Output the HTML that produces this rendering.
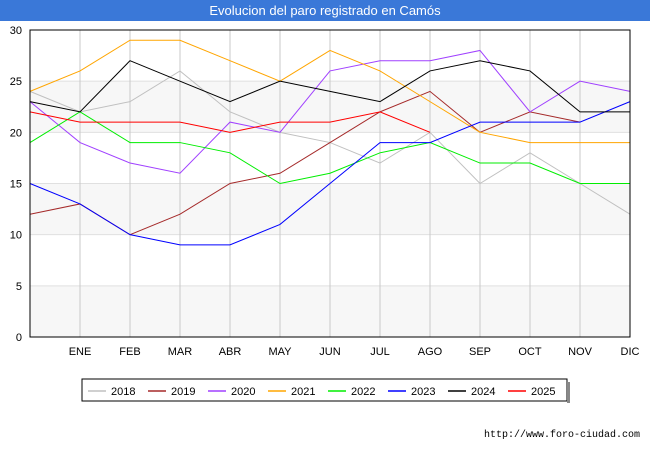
<!DOCTYPE html>
<html><head><meta charset="utf-8"><style>
body{margin:0;background:#fff;font-family:"Liberation Sans","DejaVu Sans",sans-serif}
</style></head><body>
<svg id="c" width="650" height="450" xmlns="http://www.w3.org/2000/svg">
<rect x="0" y="0" width="650" height="450" fill="#fff"/>
<rect x="0" y="0" width="650" height="21" fill="#3a78d8"/>
<text x="325" y="15" text-anchor="middle" fill="#fff" font-size="13">Evolucion del paro registrado en Camós</text>
<g id="grid"></g><g id="series"></g><g id="axes"></g>
<g id="legend"></g>
<text x="640" y="437" text-anchor="end" font-size="10" fill="#000" font-family="Liberation Mono, monospace">http://www.foro-ciudad.com</text>
</svg>
<script>
const months=["","ENE","FEB","MAR","ABR","MAY","JUN","JUL","AGO","SEP","OCT","NOV","DIC"];
const yTicks=[0,5,10,15,20,25,30];
const years=["2018","2019","2020","2021","2022","2023","2024","2025"];
const colors=["#c0c0c0","#a52a2a","#a040ff","#ffa500","#00ee00","#0000ff","#000000","#ff0000"];
const s2018=[24,22,23,26,22,20,19,17,20,15,18,15,12];
const s2019=[12,13,10,12,15,16,19,22,24,20,22,21];
const s2020=[23,19,17,16,21,20,26,27,27,28,22,25,24];
const s2021=[24,26,29,29,27,25,28,26,23,20,19,19,19];
const s2022=[19,22,19,19,18,15,16,18,19,17,17,15,15];
const s2023=[15,13,10,9,9,11,15,19,19,21,21,21,23];
const s2024=[23,22,27,25,23,25,24,23,26,27,26,22,22];
const s2025=[22,21,21,21,20,21,21,22,20];
const allSeries=[s2018,s2019,s2020,s2021,s2022,s2023,s2024,s2025];
const NS="http://www.w3.org/2000/svg";
const L=30,R=630,T=30,B=337;
const xS=i=>L+i*(R-L)/12;
const yS=v=>B-v*(B-T)/30;
function mk(tag,attrs,parent){const e=document.createElementNS(NS,tag);for(const k in attrs)e.setAttribute(k,attrs[k]);parent.appendChild(e);return e;}
const grid=document.getElementById('grid'),ax=document.getElementById('axes'),sg=document.getElementById('series'),lg=document.getElementById('legend');
for(let i=0;i<6;i+=2){const r=mk('rect',{x:L,y:yS(yTicks[i]+5),width:R-L,height:yS(0)-yS(5),fill:'#f7f7f7'},grid);

}
yTicks.forEach(v=>{const l=mk('line',{x1:L,x2:R,y1:yS(v),y2:yS(v),stroke:'#e0e0e0'},grid);


const t=mk('text',{x:L-8,y:yS(v)+4,'text-anchor':'end','font-size':11},ax);t.textContent=v;

});
months.forEach((m,i)=>{if(i>0){const l=mk('line',{x1:xS(i),x2:xS(i),y1:T,y2:B,stroke:'#c8c8c8'},grid);

}
const t=mk('text',{x:xS(i),y:B+18,'text-anchor':'middle','font-size':11},ax);t.textContent=m;

});
const fr=mk('rect',{x:L,y:T,width:R-L,height:B-T,fill:'none',stroke:'#000'},ax);


allSeries.forEach((s,k)=>{const p=mk('polyline',{points:s.map((v,i)=>xS(i)+','+yS(v)).join(' '),fill:'none',stroke:colors[k],'stroke-width':1},sg);

});
const lb=mk('rect',{x:82,y:379,width:485,height:22,fill:'#fff',stroke:'#000'},lg);


mk('rect',{x:567,y:382,width:3,height:21,fill:'#888'},lg);
years.forEach((y,k)=>{const x0=88+k*60;
const l=mk('line',{x1:x0,x2:x0+18,y1:391,y2:391,stroke:colors[k],'stroke-width':1.5},lg);


const t=mk('text',{x:x0+23,y:395,'font-size':11},lg);t.textContent=y;

});
</script>
</body></html>
